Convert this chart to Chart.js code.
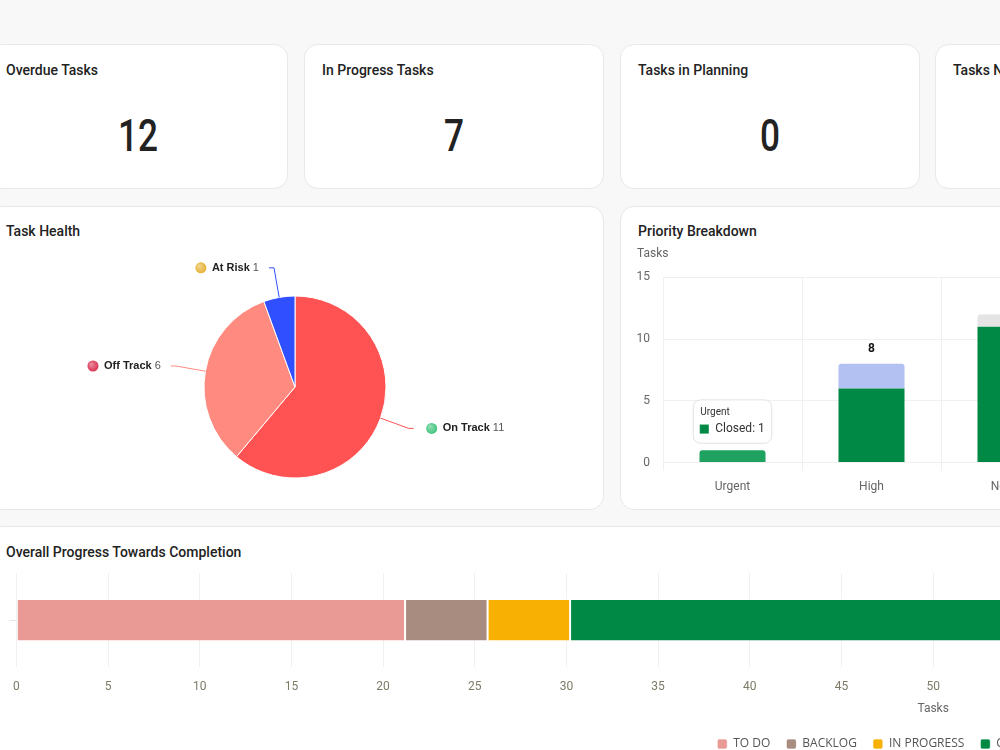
<!DOCTYPE html>
<html>
<head>
<meta charset="utf-8">
<script src="https://cdn.jsdelivr.net/npm/chart.js@4.4.1/dist/chart.umd.min.js"></script>
<style>
  html, body { margin: 0; padding: 0; width: 1000px; height: 750px; overflow: hidden; background: #f8f8f8; font-family: Roboto, "Open Sans", sans-serif; color: #222; }
  #page { position: absolute; left: -12px; top: 0; width: 1890px; height: 800px; }
  .card { position: absolute; background: #fff; border: 1px solid #e8e8e8; border-radius: 14px; box-sizing: border-box; }
  .card h6 { margin: 0; position: absolute; left: 17px; top: 16px; font-size: 14px; font-weight: 500; color: #222; line-height: 18px; }
  .row2 h6 { top: 15px; }
  .row3 h6 { top: 16px; }
  .stat .num { position: absolute; left: 0; right: 0; top: 66px; text-align: center; font-size: 44px; font-weight: 500; color: #222; line-height: 50px; transform: scaleX(0.8); }
  .chart-box { position: absolute; }
</style>
</head>
<body>
<div id="page">
  <!-- STAT CARDS -->
  <div class="card stat" style="left:0;top:44px;width:300px;height:145px;"><h6>Overdue Tasks</h6><div class="num">12</div></div>
  <div class="card stat" style="left:316px;top:44px;width:300px;height:145px;"><h6>In Progress Tasks</h6><div class="num">7</div></div>
  <div class="card stat" style="left:632px;top:44px;width:300px;height:145px;"><h6>Tasks in Planning</h6><div class="num">0</div></div>
  <div class="card stat" style="left:947px;top:44px;width:300px;height:145px;"><h6>Tasks Not Started</h6></div>

  <!-- CHARTS ROW -->
  <div class="card row2" style="left:0;top:206px;width:616px;height:304px;">
    <h6>Task Health</h6>
    <div class="chart-box" style="left:-2px;top:49px;width:616px;height:262px;"><canvas id="healthChart"></canvas></div>
  </div>
  <div class="card row2" style="left:632px;top:206px;width:616px;height:304px;">
    <h6>Priority Breakdown</h6>
    <div class="chart-box" style="left:16px;top:38px;width:582px;height:258px;"><canvas id="priorityChart"></canvas></div>
  </div>

  <!-- BOTTOM ROW -->
  <div class="card row3" style="left:0;top:526px;width:1886px;height:260px;">
    <h6>Overall Progress Towards Completion</h6>
    <div class="chart-box" style="left:11px;top:39px;width:1873px;height:194px;"><canvas id="progressChart"></canvas></div>
  </div>
</div>

<script>
// Task Health
const healthLabels = ['On Track', 'Off Track', 'At Risk'];
const healthValues = [11, 6, 1];
const healthColors = ['#ff5252', '#ff8a80', '#3050ff'];
const healthMarkers = ['#3cc37a', '#d92e4e', '#e6b030'];

// Priority Breakdown
const priorityLabels = ['Urgent', 'High', 'Normal', 'Low'];
const priorityClosed = [1, 6, 11, 3];
const priorityInProgress = [0, 2, 0, 1];
const priorityToDo = [0, 0, 1, 0];
const priorityTicks = [0, 5, 10, 15];

// Overall progress
const progressLabels = ['TO DO', 'BACKLOG', 'IN PROGRESS', 'COMPLETE', 'CANCELLED'];
const progressValues = [21.2, 4.5, 4.5, 69.8, 0];
const progressColors = ['#ea9a94', '#a98c80', '#f8b102', '#008944', '#6c757d'];

Chart.defaults.font.family = 'Roboto, "Open Sans", sans-serif';
Chart.defaults.color = '#666';
Chart.defaults.animation = false;

function lighten(hex, amt) {
  const n = parseInt(hex.slice(1), 16);
  let r = (n >> 16) & 255, g = (n >> 8) & 255, b = n & 255;
  r = Math.round(r + (255 - r) * amt); g = Math.round(g + (255 - g) * amt); b = Math.round(b + (255 - b) * amt);
  return `rgb(${r},${g},${b})`;
}

// leader lines + labels around the pie
const pieLabels = {
  id: 'pieLabels',
  afterDatasetsDraw(chart) {
    const ctx = chart.ctx;
    chart.getDatasetMeta(0).data.forEach((arc, i) => {
      const mid = (arc.startAngle + arc.endAngle) / 2;
      const r = arc.outerRadius;
      const x0 = arc.x + Math.cos(mid) * r, y0 = arc.y + Math.sin(mid) * r;
      const x1 = arc.x + Math.cos(mid) * (r + 30), y1 = arc.y + Math.sin(mid) * (r + 30);
      const right = Math.cos(mid) >= 0;
      const x2 = x1 + (right ? 5 : -5);
      ctx.save();
      ctx.strokeStyle = healthColors[i];
      ctx.lineWidth = 1;
      ctx.beginPath(); ctx.moveTo(x0, y0); ctx.lineTo(x1, y1); ctx.lineTo(x2, y1); ctx.stroke();

      const name = healthLabels[i], val = ' ' + healthValues[i];
      ctx.font = 'bold 11px "Liberation Sans", Arial, sans-serif';
      const wName = ctx.measureText(name).width;
      ctx.font = '11px "Liberation Sans", Arial, sans-serif';
      const wVal = ctx.measureText(val).width;
      const tx = right ? x1 + 34 : x1 - 15 - wName - wVal;
      const mx = tx - 11;

      const g = ctx.createRadialGradient(mx - 2, y1 - 2, 0.5, mx, y1, 6);
      g.addColorStop(0, lighten(healthMarkers[i], 0.45));
      g.addColorStop(1, healthMarkers[i]);
      ctx.fillStyle = g;
      ctx.beginPath(); ctx.arc(mx, y1, 5.5, 0, Math.PI * 2); ctx.fill();

      ctx.textBaseline = 'middle';
      ctx.textAlign = 'left';
      ctx.font = 'bold 11px "Liberation Sans", Arial, sans-serif';
      ctx.fillStyle = '#222';
      ctx.fillText(name, tx, y1);
      ctx.font = '11px "Liberation Sans", Arial, sans-serif';
      ctx.fillStyle = '#555';
      ctx.fillText(val, tx + wName, y1);
      ctx.restore();
    });
  }
};

new Chart(document.getElementById('healthChart'), {
  type: 'pie',
  data: {
    labels: healthLabels,
    datasets: [{ data: healthValues, backgroundColor: healthColors, borderColor: '#fff', borderWidth: 1 }]
  },
  options: {
    responsive: true, maintainAspectRatio: false,
    radius: 91,
    plugins: { legend: { display: false }, tooltip: { enabled: false } }
  },
  plugins: [pieLabels]
});

// stack totals above the bars
const stackTotals = {
  id: 'stackTotals',
  afterDatasetsDraw(chart) {
    const ctx = chart.ctx;
    const metas = chart.getSortedVisibleDatasetMetas();
    priorityLabels.forEach((lab, i) => {
      let total = 0, topY = Infinity, x = 0;
      metas.forEach(m => {
        const v = chart.data.datasets[m.index].data[i];
        if (v) { total += v; const el = m.data[i]; topY = Math.min(topY, el.y); x = el.x; }
      });
      if (!total) return;
      ctx.save();
      ctx.font = 'bold 12px Roboto, sans-serif';
      ctx.fillStyle = '#111';
      ctx.textAlign = 'center';
      ctx.textBaseline = 'bottom';
      ctx.fillText(String(total), x, topY - 9);
      ctx.restore();
    });
  }
};

Chart.Tooltip.positioners.above = function (items) {
  if (!items.length) return false;
  const el = items[0].element;
  return { x: el.x, y: el.y - 5, xAlign: 'center', yAlign: 'bottom' };
};

function topRadius(ctx) {
  const ds = ctx.chart.data.datasets;
  for (let k = ctx.datasetIndex + 1; k < ds.length; k++) if (ds[k].data[ctx.dataIndex]) return 0;
  return { topLeft: 3, topRight: 3 };
}

const priorityChart = new Chart(document.getElementById('priorityChart'), {
  type: 'bar',
  data: {
    labels: priorityLabels,
    datasets: [
      { label: 'Closed', data: priorityClosed, backgroundColor: '#008944', hoverBackgroundColor: '#1fa25f', borderRadius: topRadius, borderSkipped: false },
      { label: 'In Progress', data: priorityInProgress, backgroundColor: '#b2c0f2', hoverBackgroundColor: '#c2cdf5', borderRadius: topRadius, borderSkipped: false },
      { label: 'To Do', data: priorityToDo, backgroundColor: '#e4e4e4', hoverBackgroundColor: '#ececec', borderRadius: topRadius, borderSkipped: false }
    ]
  },
  options: {
    responsive: true, maintainAspectRatio: false,
    barPercentage: 0.95, categoryPercentage: 0.5,
    plugins: {
      legend: { display: false },
      title: { display: true, text: 'Tasks', align: 'start', color: '#666', font: { size: 12, weight: 'normal' }, padding: { top: 2, bottom: 16 } },
      tooltip: {
        position: 'above', caretSize: 0,
        backgroundColor: '#fff', borderColor: '#e2e2e2', borderWidth: 1, cornerRadius: 8,
        titleColor: '#333', titleFont: { size: 10, weight: 'normal' }, titleMarginBottom: 3,
        bodyColor: '#333', bodyFont: { size: 12 }, padding: 7, boxWidth: 8, boxHeight: 8, boxPadding: 5,
        multiKeyBackground: '#008944',
        callbacks: {
          labelColor: c => ({ borderColor: '#008944', backgroundColor: '#008944', borderWidth: 0 })
        }
      }
    },
    scales: {
      x: {
        stacked: true,
        grid: { color: '#f0f0f0', tickLength: 8 },
        border: { color: '#f0f0f0' },
        ticks: { padding: 9, font: { size: 12 }, color: '#666' }
      },
      y: {
        stacked: true, min: 0, max: 15,
        afterBuildTicks: s => { s.ticks = priorityTicks.map(v => ({ value: v })); },
        afterFit: s => { s.width = 26; },
        grid: { color: '#f0f0f0', drawTicks: false },
        border: { display: false },
        ticks: { padding: 13, font: { size: 12 }, color: '#666' }
      }
    }
  },
  plugins: [stackTotals]
});
priorityChart.setActiveElements([{ datasetIndex: 0, index: 0 }]);
priorityChart.tooltip.setActiveElements([{ datasetIndex: 0, index: 0 }], { x: 0, y: 0 });
priorityChart.update();

new Chart(document.getElementById('progressChart'), {
  type: 'bar',
  data: {
    labels: [''],
    datasets: progressLabels.map((l, i) => ({
      label: l, data: [progressValues[i]], backgroundColor: progressColors[i],
      borderColor: 'rgba(255,255,255,0.7)', borderWidth: 1, borderSkipped: false
    }))
  },
  options: {
    indexAxis: 'y',
    responsive: true, maintainAspectRatio: false,
    barPercentage: 0.45, categoryPercentage: 1,
    layout: { padding: { top: 2 } },
    plugins: {
      legend: { position: 'bottom', labels: { boxWidth: 10, boxHeight: 10, useBorderRadius: true, borderRadius: 2, padding: 16, color: '#555', font: { family: '"Open Sans", sans-serif', size: 12 } } },
      tooltip: { enabled: false }
    },
    scales: {
      x: {
        stacked: true, min: 0, max: 100,
        ticks: { stepSize: 5, padding: 13, font: { size: 12 }, color: '#7d7a66' },
        grid: { color: '#f0f0f0', drawTicks: false },
        border: { display: false },
        title: { display: true, text: 'Tasks', color: '#666', font: { size: 12 }, padding: { top: -6, bottom: 6 } }
      },
      y: {
        stacked: true,
        afterFit: s => { s.width = 9; },
        grid: { drawOnChartArea: false, offset: false, tickLength: 7, color: '#e4e4e4' },
        border: { display: false },
        ticks: { padding: 0 }
      }
    }
  }
});
</script>
</body>
</html>
